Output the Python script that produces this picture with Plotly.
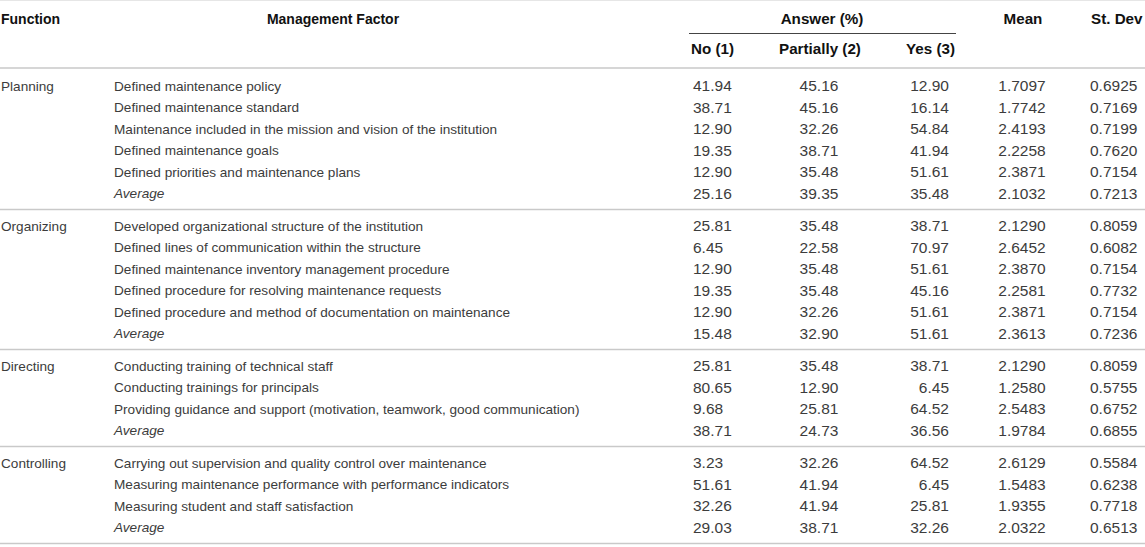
import plotly.graph_objects as go

# ---------------- data ----------------
functions = ["Planning", "Organizing", "Directing", "Controlling"]
factors = [
    ["Defined maintenance policy",
     "Defined maintenance standard",
     "Maintenance included in the mission and vision of the institution",
     "Defined maintenance goals",
     "Defined priorities and maintenance plans",
     "Average"],
    ["Developed organizational structure of the institution",
     "Defined lines of communication within the structure",
     "Defined maintenance inventory management procedure",
     "Defined procedure for resolving maintenance requests",
     "Defined procedure and method of documentation on maintenance",
     "Average"],
    ["Conducting training of technical staff",
     "Conducting trainings for principals",
     "Providing guidance and support (motivation, teamwork, good communication)",
     "Average"],
    ["Carrying out supervision and quality control over maintenance",
     "Measuring maintenance performance with performance indicators",
     "Measuring student and staff satisfaction",
     "Average"],
]
no_pct = ["41.94", "38.71", "12.90", "19.35", "12.90", "25.16",
          "25.81", "6.45", "12.90", "19.35", "12.90", "15.48",
          "25.81", "80.65", "9.68", "38.71",
          "3.23", "51.61", "32.26", "29.03"]
partially_pct = ["45.16", "45.16", "32.26", "38.71", "35.48", "39.35",
                 "35.48", "22.58", "35.48", "35.48", "32.26", "32.90",
                 "35.48", "12.90", "25.81", "24.73",
                 "32.26", "41.94", "41.94", "38.71"]
yes_pct = ["12.90", "16.14", "54.84", "41.94", "51.61", "35.48",
           "38.71", "70.97", "51.61", "45.16", "51.61", "51.61",
           "38.71", "6.45", "64.52", "36.56",
           "64.52", "6.45", "25.81", "32.26"]
mean_vals = ["1.7097", "1.7742", "2.4193", "2.2258", "2.3871", "2.1032",
             "2.1290", "2.6452", "2.3870", "2.2581", "2.3871", "2.3613",
             "2.1290", "1.2580", "2.5483", "1.9784",
             "2.6129", "1.5483", "1.9355", "2.0322"]
stdev_vals = ["0.6925", "0.7169", "0.7199", "0.7620", "0.7154", "0.7213",
              "0.8059", "0.6082", "0.7154", "0.7732", "0.7154", "0.7236",
              "0.8059", "0.5755", "0.6752", "0.6855",
              "0.5584", "0.6238", "0.7718", "0.6513"]
header_top = ["Function", "Management Factor", "Answer (%)", "Mean", "St. Dev"]
header_sub = ["No (1)", "Partially (2)", "Yes (3)"]

# ---------------- layout constants ----------------
W, H = 1145, 547
FONT = "Liberation Sans"
TEXT = dict(family=FONT, size=13.6, color="#3c3c3c")
NUM = dict(family=FONT, size=15.5, color="#3c3c3c")
HEAD_S = dict(family=FONT, size=14, color="#111111")
HEAD_L = dict(family=FONT, size=15.2, color="#111111")
ROW0, PITCH, GAP = 87.5, 21.5, 11.0
LINE_COL = "#c9c9c9"

# row y positions
row_y, factor_txt, func_y, seps = [], [], [], []
k = 0
for g, items in enumerate(factors):
    for j, t in enumerate(items):
        y = ROW0 + PITCH * k + GAP * g
        row_y.append(y)
        factor_txt.append("<i>%s</i>" % t if t == "Average" else t)
        if j == 0:
            func_y.append(y)
        k += 1
    seps.append(row_y[-1] + 14.5)

fig = go.Figure()

def txt(x, y, text, pos, font):
    fig.add_trace(go.Scatter(x=x, y=y, text=text, mode="text",
                             textposition=pos, textfont=font,
                             hoverinfo="skip", showlegend=False,
                             cliponaxis=True))

n = len(row_y)
# body
txt([1] * len(functions), func_y, functions, "middle right", TEXT)
txt([114] * n, row_y, factor_txt, "middle right", TEXT)
txt([693] * n, row_y, no_pct, "middle right", NUM)
txt([819] * n, row_y, partially_pct, "middle center", NUM)
txt([949] * n, row_y, yes_pct, "middle left", NUM)
txt([1022] * n, row_y, mean_vals, "middle center", NUM)
txt([1090] * n, row_y, stdev_vals, "middle right", NUM)

# headers
def htxt(x, y, s, pos, font):
    txt([x], [y], ["<b>%s</b>" % s], pos, font)

htxt(1, 20, header_top[0], "middle right", HEAD_S)
htxt(333, 20, header_top[1], "middle center", HEAD_S)
htxt(822, 20, header_top[2], "middle center", HEAD_L)
htxt(1023, 20, header_top[3], "middle center", HEAD_L)
htxt(1091, 20, header_top[4], "middle right", HEAD_L)
htxt(691, 50, header_sub[0], "middle right", HEAD_L)
htxt(820, 50, header_sub[1], "middle center", HEAD_L)
htxt(955, 50, header_sub[2], "middle left", HEAD_L)

shapes = []
def hline(y, x0=0, x1=W, color=LINE_COL, width=1.5):
    shapes.append(dict(type="line", xref="x", yref="y", x0=x0, x1=x1,
                       y0=y, y1=y, line=dict(color=color, width=width)))

hline(0.5, color="#e6e6e6", width=1)
hline(68)
hline(33.5, 689, 956, color="#444444", width=1.2)
for s in seps:
    hline(s)

fig.update_layout(
    width=W, height=H,
    margin=dict(l=0, r=0, t=0, b=0),
    paper_bgcolor="white", plot_bgcolor="white",
    xaxis=dict(range=[0, W], visible=False, fixedrange=True),
    yaxis=dict(range=[H, 0], visible=False, fixedrange=True),
    shapes=shapes,
)
fig.write_html("out.html",
               config={"displayModeBar": False},
               post_script="document.body.style.margin='0px';"
                           "document.body.style.overflow='hidden';")
